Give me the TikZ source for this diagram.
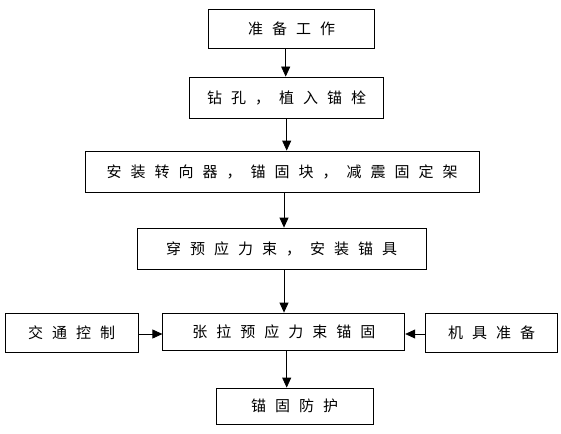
\documentclass[tikz,border=0pt]{standalone}
\usepackage{fontspec}
\newfontfamily\cjk{Noto Sans CJK SC}
\usetikzlibrary{arrows.meta}
\newcommand\kj{\hspace{9pt}}
\tikzset{
  box/.style={draw=black, line width=0.8pt, inner sep=0pt, font=\cjk\fontsize{15pt}{18pt}\selectfont},
  arr/.style={draw=black, line width=0.8pt, -{Triangle[length=10pt,width=9pt]}}
}
\begin{document}
\begin{tikzpicture}[x=1pt,y=-1pt]
\useasboundingbox (0,0) rectangle (561,433);
\node[box, minimum width=166pt, minimum height=39pt] (b1) at (291.7,28.8) {准\kj 备\kj 工\kj 作};
\node[box, minimum width=194pt, minimum height=41pt] (b2) at (286.5,97.5) {钻\kj 孔\kj ，\kj 植\kj 入\kj 锚\kj 栓};
\node[box, minimum width=394pt, minimum height=41pt] (b3) at (282,171.5) {安\kj 装\kj 转\kj 向\kj 器\kj ，\kj 锚\kj 固\kj 块\kj ，\kj 减\kj 震\kj 固\kj 定\kj 架};
\node[box, minimum width=289pt, minimum height=41pt] (b4) at (281.5,248.5) {穿\kj 预\kj 应\kj 力\kj 束\kj ，\kj 安\kj 装\kj 锚\kj 具};
\node[box, minimum width=242pt, minimum height=37pt] (b5) at (283.8,331.5) {张\kj 拉\kj 预\kj 应\kj 力\kj 束\kj 锚\kj 固};
\node[box, minimum width=133pt, minimum height=39pt] (bl) at (71.7,332.5) {交\kj 通\kj 控\kj 制};
\node[box, minimum width=132pt, minimum height=39pt] (br) at (491.5,332.5) {机\kj 具\kj 准\kj 备};
\node[box, minimum width=157pt, minimum height=36pt] (b6) at (294.5,406) {锚\kj 固\kj 防\kj 护};
\coordinate (xa) at (285.7,0);
\coordinate (xb) at (284,0);
\coordinate (xc) at (286.7,0);
\coordinate (ya) at (0,334);
\draw[arr] (b1.south -| xa) -- (b2.north -| xa);
\draw[arr] (b2.south -| xc) -- (b3.north -| xc);
\draw[arr] (b3.south -| xb) -- (b4.north -| xb);
\draw[arr] (b4.south -| xb) -- (b5.north -| xb);
\draw[arr] (b5.south -| xc) -- (b6.north -| xc);
\draw[arr] (bl.east |- ya) -- (b5.west |- ya);
\draw[arr] (br.west |- ya) -- (b5.east |- ya);
\end{tikzpicture}
\end{document}
